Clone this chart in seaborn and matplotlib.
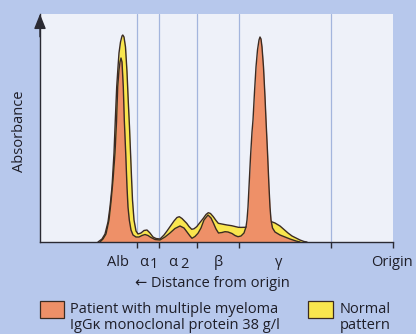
import matplotlib
matplotlib.use("Agg")
import matplotlib.pyplot as plt
import matplotlib.transforms as mtransforms
from matplotlib.patches import Rectangle
import seaborn as sns
import pandas as pd

# ---------------- data (x: migration position, y: absorbance, arbitrary units) -------------
normal_x = [98, 102, 105, 108, 110, 112, 114, 115.3, 116.7, 118, 119, 120.5, 122, 122.8,
            124, 125.5, 127, 128.3, 129.5, 130.5, 131.5, 132.5, 134, 136, 138, 141, 144,
            147, 150, 153, 156, 160, 164, 167, 170, 174, 177, 179.3, 182, 186.7, 189,
            191.7, 194, 196.7, 200, 203.3, 206, 208.3, 210.5, 213.3, 216, 218.3, 223.3,
            227, 231.7, 235, 238.3, 241, 245, 249, 253, 257, 261, 265, 268, 271, 275,
            280, 284, 288, 292, 296, 300, 304, 307]
normal_y = [0, 3, 8, 20, 35, 55, 89, 122, 155, 175, 189, 200, 206, 207,
            205, 195, 170, 140, 115, 90, 65, 42, 22, 11, 8, 9, 11.5,
            12, 9, 5, 3.5, 3, 7, 11, 15.3, 21, 24.5, 25.3, 23.5, 18.7, 15.5,
            12.7, 13.2, 15.3, 19.5, 23.7, 27.5, 29.3, 28.5, 25.3, 21.5, 18.7, 17.7,
            17, 16.3, 15.5, 14.7, 14.6, 14.7, 15.5, 16.5, 17.5, 18.5, 19.5, 20.2, 20.5, 19,
            16, 12.5, 9, 6, 4, 2, 0.5, 0]

patient_x = [100, 103, 106, 109, 111, 113, 115, 116.5, 117.7, 119, 120, 121, 122, 123.3,
             124.3, 125.7, 127, 128, 129.3, 131, 133, 136, 139, 142, 145, 148, 151, 155,
             160, 165, 170, 175, 180, 184, 187, 190, 192, 195, 198, 201, 204, 208, 211,
             213.5, 216, 218.5, 222, 225, 228, 232, 235, 238, 241, 244, 246, 247, 248,
             249, 250.5, 252, 253, 254.5, 256, 257.5, 259, 260, 261, 262, 263.5, 265,
             266, 267.5, 269, 270, 271, 272.5, 275, 280, 285, 290, 296, 300]
patient_y = [0, 3, 8, 22, 40, 62, 89, 120, 155, 172, 180, 184, 180, 155,
             122, 89, 55, 35, 22, 12, 7, 5, 5, 6.5, 7.5, 6.5, 4.5, 2.5,
             2, 5, 9, 13.5, 16, 14, 10, 6, 3.7, 5.5, 8.7, 14, 22, 27, 24,
             18.7, 13, 9, 9.5, 10.3, 10, 8.5, 6.5, 5.3, 6, 9, 15, 22, 35,
             55, 85, 110, 122, 150, 175, 192, 202, 205, 203, 195, 175, 145,
             122, 90, 55, 35, 22, 14, 10, 7, 5, 3, 1, 0]

zone_bounds = [137, 159, 197, 239, 331, 393]
zone_labels = ["Alb", "α", "α", "β", "γ", "Origin"]
zone_subs = ["", "1", "2", "", "", ""]

patient_label = "Patient with multiple myeloma\nIgGκ monoclonal protein 38 g/l"
normal_label = "Normal\npattern"

# ---------------- style ----------------
W, H = 416, 334
BG = "#b7c8ec"
PANEL = "#eef1f9"
GRID = "#a3b5dd"
ORANGE = "#ee9068"
YELLOW = "#f9e64e"
EDGE = "#3b2b22"
TXT = "#1e1e28"
FAM = ["Open Sans", "DejaVu Sans"]
FS = 10.5

sns.set_theme(style="white")
plt.rcParams["font.family"] = FAM

fig = plt.figure(figsize=(W / 100, H / 100), dpi=100, facecolor=BG)


def fx(px):
    return px / W


def fy(py):
    return 1 - py / H


ax_l, ax_r, ax_t, ax_b = 40, 393, 14, 242
ax = fig.add_axes([fx(ax_l), fy(ax_b), (ax_r - ax_l) / W, (ax_b - ax_t) / H])
ax.set_facecolor(PANEL)
ax.set_xlim(ax_l, ax_r)
ax.set_ylim(0, ax_b - ax_t)

for b in zone_bounds[:-1]:
    ax.axvline(b, color=GRID, lw=0.9, zorder=1)

df_n = pd.DataFrame({"x": normal_x, "y": normal_y})
df_p = pd.DataFrame({"x": patient_x, "y": patient_y})

ax.fill_between(df_n["x"], df_n["y"], color=YELLOW, lw=0, zorder=2)
sns.lineplot(data=df_n, x="x", y="y", ax=ax, color=EDGE, lw=1.0, estimator=None, zorder=3)
ax.fill_between(df_p["x"], df_p["y"], color=ORANGE, lw=0, zorder=4)
sns.lineplot(data=df_p, x="x", y="y", ax=ax, color=EDGE, lw=1.0, estimator=None, zorder=5)

for s in ["top", "right"]:
    ax.spines[s].set_visible(False)
for s in ["left", "bottom"]:
    ax.spines[s].set_color("#2a2a33")
    ax.spines[s].set_linewidth(1.0)
    ax.spines[s].set_zorder(6)
ax.set_yticks([])
ax.set_xticks(zone_bounds)
ax.set_xticklabels([])
ax.tick_params(axis="x", bottom=True, direction="out", length=4.5, width=1.0, color="#2a2a33")
ax.set_xlabel("")
ax.set_ylabel("")

ax.annotate("", xy=(0, 1.0), xytext=(0, 0.9), xycoords="axes fraction",
            arrowprops=dict(arrowstyle="-|>,head_length=0.5,head_width=0.2",
                            mutation_scale=18, color="#2a2a33", lw=1.0,
                            shrinkA=0, shrinkB=0), annotation_clip=False)

# zone labels
blend = mtransforms.blended_transform_factory(ax.transData, fig.transFigure)
label_x = [118, 144, 173, 218, 279, 392]
sub_x = [None, 153.5, 184, None, None, None]
for lab, sub, x, sx in zip(zone_labels, zone_subs, label_x, sub_x):
    ax.text(x, fy(266), lab, transform=blend, ha="center", va="baseline",
            fontsize=FS, color=TXT, family=FAM, clip_on=False)
    if sub:
        ax.text(sx, fy(268.5), sub, transform=blend, ha="center", va="baseline",
                fontsize=FS, color=TXT, family=FAM, clip_on=False)

fig.text(fx(212), fy(287), "← Distance from origin", ha="center", va="baseline",
         fontsize=FS, color=TXT, family=FAM)
fig.text(fx(20), fy(131), "Absorbance", ha="center", va="center", rotation=90,
         fontsize=FS, color=TXT, family=FAM)

# legend
fig.add_artist(Rectangle((fx(40), fy(318)), 24 / W, 17 / H, transform=fig.transFigure,
                         facecolor=ORANGE, edgecolor=EDGE, lw=0.9))
fig.add_artist(Rectangle((fx(308), fy(318)), 25 / W, 17 / H, transform=fig.transFigure,
                         facecolor=YELLOW, edgecolor=EDGE, lw=0.9))
for i, line in enumerate(patient_label.split("\n")):
    fig.text(fx(70), fy(313 + 16 * i), line, ha="left", va="baseline",
             fontsize=FS, color=TXT, family=FAM)
for i, line in enumerate(normal_label.split("\n")):
    fig.text(fx(340), fy(313 + 16 * i), line, ha="left", va="baseline",
             fontsize=FS, color=TXT, family=FAM)

fig.savefig("out.png", dpi=100, facecolor=BG)
